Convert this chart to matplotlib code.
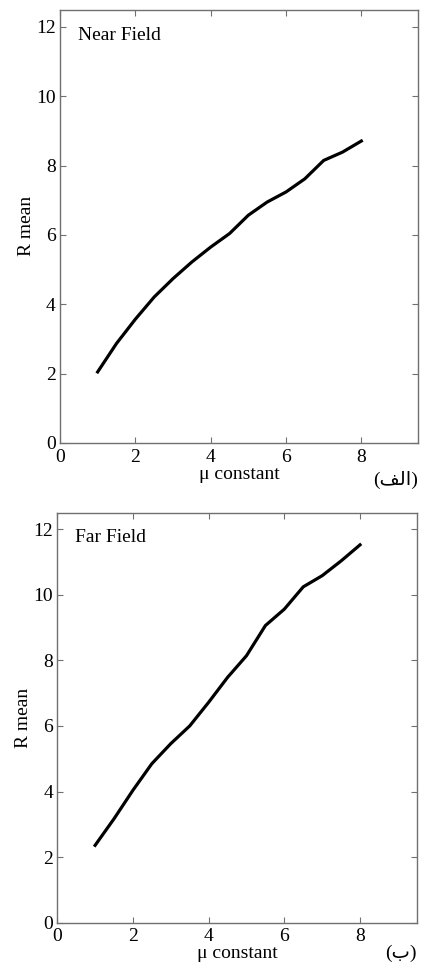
import matplotlib
matplotlib.use("Agg")
import matplotlib.pyplot as plt

mu = [1, 1.5, 2, 2.5, 3, 3.5, 4, 4.5, 5, 5.5, 6, 6.5, 7, 7.5, 8]
r_near = [2.05, 2.87, 3.57, 4.21, 4.74, 5.22, 5.65, 6.04, 6.57, 6.95, 7.24, 7.62, 8.15, 8.39, 8.71]
r_far = [2.36, 3.17, 4.04, 4.85, 5.46, 6.0, 6.72, 7.48, 8.14, 9.06, 9.56, 10.24, 10.58, 11.03, 11.52]

xticks = [0, 2, 4, 6, 8]
yticks = [0, 2, 4, 6, 8, 10, 12]

SERIF = ['Liberation Serif', 'DejaVu Serif']
ARABIC = ['Liberation Serif', 'DejaVu Sans']
FS = 14

fig = plt.figure(figsize=(4.21, 9.63), dpi=100)

panels = [
    ([0.1425, 0.540, 0.850, 0.450], r_near, "Near Field", "(\ufed2\ufedf\ufe8d)", -0.085),
    ([0.136, 0.0418, 0.854, 0.4258], r_far, "Far Field", "(\ufe8f)", -0.074),
]

for rect, r, name, tag, tag_y in panels:
    ax = fig.add_axes(rect)
    ax.plot(mu, r, color='black', lw=2.3)
    ax.set_xlim(0, 9.5)
    ax.set_ylim(0, 12.5)
    ax.set_xticks(xticks)
    ax.set_yticks(yticks)
    ax.tick_params(direction='in', top=True, right=True, length=4,
                   color='#707070', labelsize=FS)
    ax.tick_params(axis='x', pad=4)
    ax.tick_params(axis='y', pad=3)
    for lab in ax.get_xticklabels() + ax.get_yticklabels():
        lab.set_family(SERIF)
    for s in ax.spines.values():
        s.set_color('#707070')
        s.set_linewidth(1.0)
    ax.set_xlabel("\u03bc constant", fontsize=FS, family=SERIF, labelpad=0)
    ax.set_ylabel("R mean", fontsize=FS, family=SERIF, labelpad=1)
    ax.text(0.05, 0.94, name, transform=ax.transAxes, fontsize=FS,
            family=SERIF, va='center', ha='left')
    ax.text(1.0, tag_y, tag, transform=ax.transAxes, fontsize=FS,
            family=ARABIC, va='center', ha='right')

fig.savefig("out.png", dpi=100)
